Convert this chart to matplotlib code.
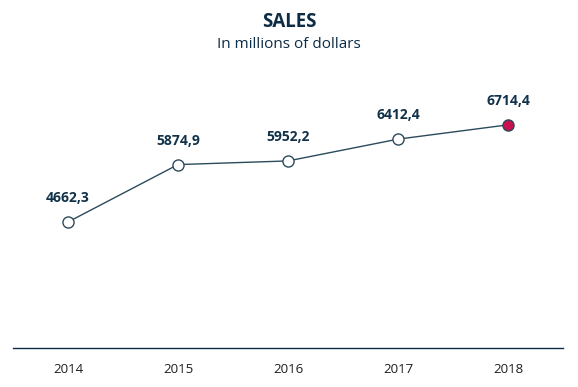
import matplotlib.pyplot as plt
import numpy as np

years = ["2014", "2015", "2016", "2017", "2018"]
sales = [4662.3, 5874.9, 5952.2, 6412.4, 6714.4]

plt.rcParams['font.family'] = ['Open Sans', 'DejaVu Sans']

line_color = "#2b4a5c"
text_color = "#12324a"

fig = plt.figure(figsize=(5.78, 3.87), dpi=100)
ax = fig.add_axes([13 / 578, 1 - 348 / 387, 550 / 578, (348 - 64) / 387])

x = np.arange(len(years))
ax.plot(x, sales, color=line_color, lw=1, zorder=2)
ax.plot(x[:-1], sales[:-1], 'o', ms=8, mfc='white', mec=line_color, mew=1, zorder=3)
ax.plot(x[-1:], sales[-1:], 'o', ms=8, mfc='#c8104f', mec=line_color, mew=1, zorder=3)

for xi, v in zip(x, sales):
    ax.annotate(f"{v:.1f}".replace(".", ","), (xi, v), xytext=(0, 12), textcoords='offset points',
                ha='center', va='bottom', fontsize=10, fontweight='bold', color=text_color)

ax.set_xlim(-0.5, len(years) - 0.5)
ax.set_ylim(2000, 8000)
ax.set_xticks(x)
ax.set_xticklabels(years, fontsize=9.5, color="#1e1e1e")
ax.tick_params(axis='x', length=0, pad=11)
ax.set_yticks([])
for s in ['top', 'left', 'right']:
    ax.spines[s].set_visible(False)
ax.spines['bottom'].set_color("#0d2c45")
ax.spines['bottom'].set_linewidth(1)

fig.text(0.5, 1 - 22 / 387, "SALES", ha='center', va='center', fontsize=13.5,
         fontweight='bold', color="#0d2c45")
fig.text(0.5, 1 - 45 / 387, "In millions of dollars", ha='center', va='center',
         fontsize=11, color="#0d2c45")

fig.savefig("out.png", dpi=100)
